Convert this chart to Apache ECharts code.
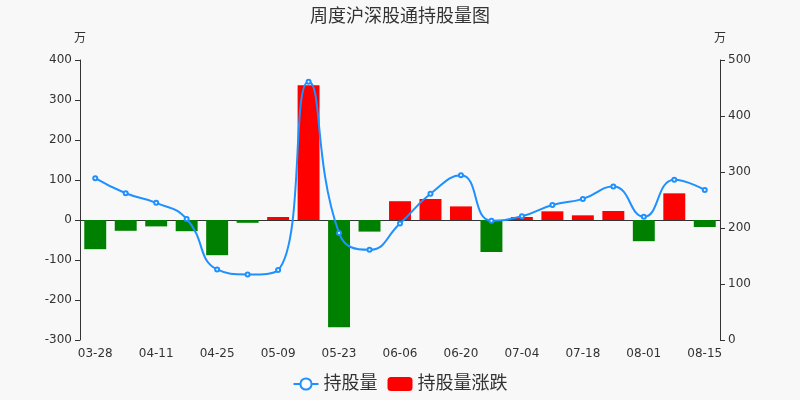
<!DOCTYPE html>
<html>
<head>
<meta charset="utf-8">
<script src="https://cdn.jsdelivr.net/npm/echarts@6/dist/echarts.min.js"></script>
<style>
html,body{margin:0;padding:0;background:#f8f8f8;}
#main{width:800px;height:400px;}
</style>
</head>
<body>
<div id="main"></div>
<script>
const categories = ['03-28','04-04','04-11','04-18','04-25','05-02','05-09','05-16','05-23','05-30','06-06','06-13','06-20','06-27','07-04','07-11','07-18','07-25','08-01','08-08','08-15'];
const holdings = [289,262,245,216,126,117,125,461,191,161,208,261,294,213,221,241,252,274,220,286,268];
const changes = [-73,-27,-16,-28,-88,-7,7.5,337,-268,-29,47,52.5,34,-80,7.5,21.7,11.7,22.5,-53,66.7,-17.5];
const leftTicks = {min:-300, max:400, interval:100};
const rightTicks = {min:0, max:500, interval:100};

const chart = echarts.init(document.getElementById('main'), null, {renderer:'canvas'});
const font = '"DejaVu Sans", "Noto Sans CJK SC", sans-serif';
const axisColor = '#333';
chart.setOption({
  backgroundColor:'#f8f8f8',
  animation:false,
  textStyle:{fontFamily:font},
  title:{text:'周度沪深股通持股量图', left:'center', top:3,
    textStyle:{fontSize:18, fontWeight:'normal', color:'#333', fontFamily:font}},
  legend:{bottom:2, itemGap:10, itemWidth:25, itemHeight:14,
    textStyle:{fontSize:18, color:'#333', fontFamily:font},
    data:['持股量','持股量涨跌']},
  grid:{left:80, right:80, top:60, bottom:60},
  xAxis:[
    {type:'category', data:categories, position:'bottom',
      axisLine:{onZero:true, lineStyle:{color:axisColor}},
      axisTick:{interval:1, lineStyle:{color:axisColor}},
      axisLabel:{show:false}},
    {type:'category', data:categories, position:'bottom',
      axisLine:{show:false, onZero:false}, axisTick:{show:false},
      axisLabel:{interval:1, color:'#333', fontSize:12, margin:8, fontFamily:font}}
  ],
  yAxis:[
    {type:'value', name:'万', nameTextStyle:{color:'#333', fontSize:12, align:'center'},
      min:leftTicks.min, max:leftTicks.max, interval:leftTicks.interval,
      axisLine:{show:true, lineStyle:{color:axisColor}}, axisTick:{show:true},
      axisLabel:{color:'#333', fontSize:12}, splitLine:{show:false}},
    {type:'value', name:'万', nameTextStyle:{color:'#333', fontSize:12, align:'center'},
      min:rightTicks.min, max:rightTicks.max, interval:rightTicks.interval,
      axisLine:{show:true, lineStyle:{color:axisColor}}, axisTick:{show:true},
      axisLabel:{color:'#333', fontSize:12}, splitLine:{show:false}}
  ],
  series:[
    {name:'持股量', type:'line', xAxisIndex:0, yAxisIndex:1, data:holdings, smooth:true,
      symbol:'emptyCircle', symbolSize:4, z:5,
      itemStyle:{color:'#1e90ff'}, lineStyle:{color:'#1e90ff', width:2}},
    {name:'持股量涨跌', type:'bar', xAxisIndex:0, yAxisIndex:0, barWidth:'72%',
      data:changes.map(v => ({value:v, itemStyle:{color: v >= 0 ? '#ff0000' : '#008000'}})),
      itemStyle:{color:'#ff0000'}}
  ]
});
</script>
</body>
</html>
